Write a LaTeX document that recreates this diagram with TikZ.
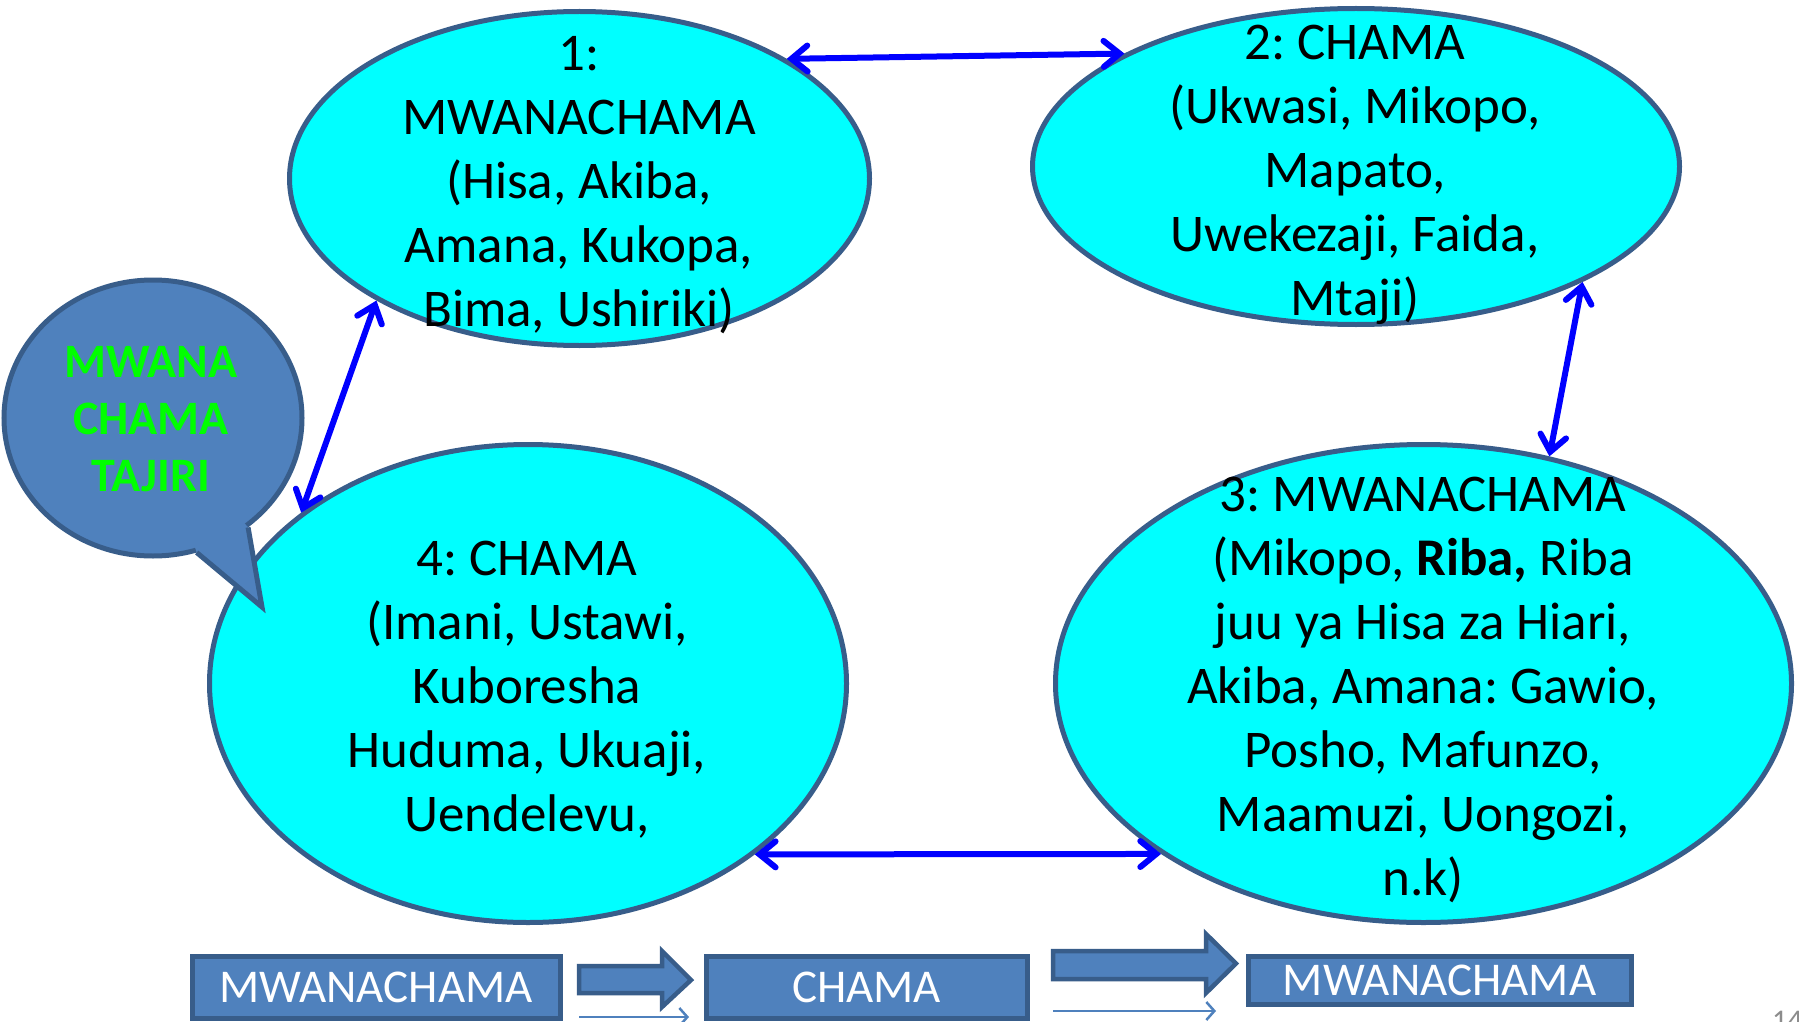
\documentclass[tikz,border=0pt]{standalone}
\usepackage{fontspec}
\setmainfont{Carlito}
\usetikzlibrary{arrows.meta,shapes.geometric}
\definecolor{ecyan}{RGB}{0,255,255}
\definecolor{eborder}{RGB}{56,93,138}
\definecolor{bfill}{RGB}{79,129,189}
\definecolor{bgreen}{RGB}{0,255,0}
\definecolor{pnum}{RGB}{140,140,140}
\frenchspacing
\begin{document}
\begin{tikzpicture}[x=1pt,y=-1pt,
  oval/.style={ellipse, draw=eborder, fill=ecyan, line width=5pt, inner sep=0pt},
  etext/.style={align=center, font=\fontsize{53}{64}\selectfont, text=black, inner sep=0pt},
  ctext/.style={align=center, font=\fontsize{48}{57}\selectfont\bfseries, text=bgreen, inner sep=0pt},
  link/.style={draw={rgb,255:red,0;green,0;blue,255}, line width=6pt, line cap=round,
    {Straight Barb[length=16pt,width=26pt,line cap=round]}-{Straight Barb[length=16pt,width=26pt,line cap=round]}},
  bluebox/.style={rectangle, draw=eborder, fill=bfill, line width=5pt, text=white,
    font=\fontsize{47}{56}\selectfont, inner sep=0pt},
  blockarrow/.style={draw=eborder, fill=bfill, line width=4.5pt, line join=miter},
  slimarrow/.style={draw=bfill, line width=2.5pt, -{Straight Barb[length=8pt,width=18pt]}}
]
\useasboundingbox[fill=white] (0,0) rectangle (1799,1022);

% ellipses
\node[oval, minimum width=580pt, minimum height=334pt] (e1) at (579.5,178.5) {};
\node[oval, minimum width=647pt, minimum height=316pt] (e2) at (1356,166.5) {};
\node[oval, minimum width=736pt, minimum height=478pt] (e3) at (1423.5,683.5) {};
\node[oval, minimum width=637pt, minimum height=478pt] (e4) at (528,683.5) {};

% callout
\node[ellipse, draw=eborder, fill=bfill, line width=5pt, inner sep=0pt,
      minimum width=298pt, minimum height=276pt] (cl) at (153,418) {};
\coordinate (tip) at (262,607);
\fill[bfill] (cl.-49) -- (tip) -- (cl.-72) -- (cl.center) -- cycle;
\draw[eborder, line width=5pt, line join=miter] (cl.-49) -- (tip) -- (cl.-72);
\node[ctext] (clt) at (151,423) {\strut MWANA\\CHAMA\\TAJIRI\strut};

% texts
\node[etext] (t1) at (579,186) {\strut 1:\\MWANACHAMA\\(Hisa, Akiba,\\Amana, Kukopa,\\Bima, Ushiriki)\strut};
\node[etext] (t2) at (1355,175) {\strut 2: CHAMA\\(Ukwasi, Mikopo,\\Mapato,\\Uwekezaji, Faida,\\Mtaji)\strut};
\node[etext] (t3) at (1423,691) {\strut 3: MWANACHAMA\\(Mikopo, \textbf{Riba,} Riba\\juu ya Hisa za Hiari,\\Akiba, Amana: Gawio,\\Posho, Mafunzo,\\Maamuzi, Uongozi,\\n.k)\strut};
\node[etext] (t4) at (527,691) {\strut 4: CHAMA\\(Imani, Ustawi,\\Kuboresha\\Huduma, Ukuaji,\\Uendelevu,\strut};

% connectors
\draw[link] (e1.30) -- (e2.154);
\draw[link] (e2.-27) -- (e3.61);
\draw[link] (e1.211) -- (e4.143);
\draw[link] (e4.-37) -- (e3.213);

% bottom row
\node[bluebox, minimum width=368pt, minimum height=62pt] (b1) at (376,987) {MWANACHAMA};
\node[bluebox, minimum width=321pt, minimum height=62pt] (b2) at (866.5,987) {CHAMA};
\node[bluebox, minimum width=383pt, minimum height=48pt] (b3) at (1439.5,980) {MWANACHAMA};

\draw[blockarrow] (579,966) -- (662,966) -- (662,951) -- (691,980) -- (662,1007) -- (662,993) -- (579,993) -- cycle;
\draw[blockarrow] (1053,951) -- (1206,951) -- (1206,934) -- (1236,963.5) -- (1206,993) -- (1206,979) -- (1053,979) -- cycle;

\coordinate (s1a) at (579,1017);
\coordinate (s1b) at (689,1017);
\coordinate (s2a) at (1053,1011);
\coordinate (s2b) at (1216,1011);
\draw[slimarrow] (s1a) -- (s1b);
\draw[slimarrow] (s2a) -- (s2b);

\node[font=\fontsize{30}{36}\selectfont, text=pnum, anchor=base west, inner sep=0pt] (pg) at (1772,1030) {14};
\end{tikzpicture}
\end{document}
